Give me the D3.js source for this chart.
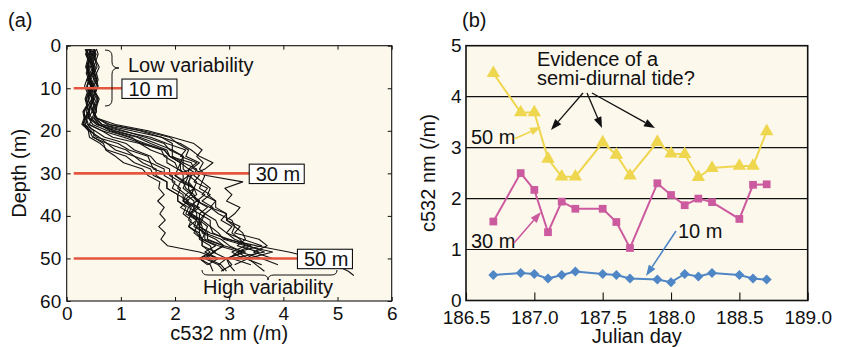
<!DOCTYPE html>
<html><head><meta charset="utf-8">
<script src="https://cdn.jsdelivr.net/npm/d3@7"></script>
<style>
html,body{margin:0;padding:0;background:#fff;}
svg text{font-family:"Liberation Sans",Arial,Helvetica,sans-serif;fill:#111;}
</style></head>
<body>
<svg id="c" width="842" height="347"></svg>
<script>
// ---------- DATA: panel (a) profiles ----------
const depths = [0.8,2,3.5,5,6.5,8,9.5,11,12.5,14,15.5,17,18.5,20,21.5,23,24.5,26,27.5,29,30.5,32,33.5,35,36.5,38,39.5,41,42.5,44,45.5,47,48.5,50,51.5,53,54];
const profiles = [
 [0.42,0.46,0.44,0.5,0.47,0.43,0.48,0.52,0.46,0.5,0.47,0.55,0.9,1.5,1.95,2.35,2.5,2.4,2.52,2.45,2.58,3.25,2.92,3.05,2.95,3.2,3.1,2.95,3.2,3.1,3.55,3.7,3.45,3.8],
 [0.38,0.36,0.42,0.4,0.45,0.41,0.38,0.44,0.4,0.37,0.42,0.4,0.55,1.0,1.55,1.85,2.2,2.1,2.4,2.25,2.45,2.35,2.6,2.5,2.75,2.65,2.95,2.85,3.05,2.95,3.25,3.6,3.15,3.35,3.5,3.65],
 [0.5,0.54,0.5,0.46,0.52,0.56,0.5,0.47,0.52,0.45,0.4,0.34,0.38,0.5,0.5,0.68,0.72,0.9,1.05,1.4,1.5,1.72,1.7,1.8,1.68,1.8,1.72,1.82,1.7,1.82,1.74,1.86,2.45,2.8],
 [0.44,0.4,0.45,0.42,0.38,0.44,0.48,0.42,0.46,0.4,0.36,0.42,0.6,0.85,1.3,1.55,1.85,1.9,2.1,2.05,2.25,2.2,2.35,2.3,2.45,2.4,2.55,2.5,2.65,2.7,2.95,3.5,4.1,4.6,4.95,5.2,5.3],
 [0.46,0.5,0.54,0.5,0.55,0.52,0.57,0.53,0.58,0.55,0.52,0.47,0.42,0.65,1.05,1.4,1.75,1.8,2.0,2.05,2.25,2.1,2.35,2.3,2.45,2.4,2.55,2.45,2.6,2.55,2.85,3.0,3.25,2.95,3.0,3.1],
 [0.36,0.4,0.38,0.35,0.4,0.43,0.38,0.42,0.36,0.4,0.32,0.34,0.3,0.45,0.55,0.95,1.15,1.5,1.55,1.8,1.8,2.0,1.95,2.15,2.15,2.3,2.25,2.4,2.35,2.55,2.5,2.75,2.55,2.8,2.6],
 [0.52,0.48,0.53,0.56,0.5,0.55,0.58,0.53,0.6,0.56,0.54,0.5,0.65,1.2,1.75,2.1,2.3,2.45,2.7,2.55,2.3,2.25,2.35,2.4,2.2,2.45,2.3,2.5,2.45,2.65,3.0,3.35,3.65,3.05,3.4],
 [0.4,0.44,0.4,0.37,0.43,0.4,0.46,0.42,0.39,0.44,0.4,0.36,0.4,0.65,0.85,1.35,1.55,1.85,1.85,2.05,2.0,2.2,2.15,2.3,2.15,2.4,2.25,2.45,2.4,2.55,2.55,2.9,2.7,2.95,3.05,2.85],
 [0.55,0.5,0.46,0.5,0.47,0.52,0.48,0.44,0.5,0.45,0.42,0.38,0.34,0.42,0.6,0.75,1.1,1.25,1.55,1.6,1.95,1.95,2.1,2.05,2.25,2.1,2.3,2.25,2.4,2.35,2.5,2.5,2.75,2.45,2.6],
 [0.44,0.48,0.45,0.5,0.46,0.42,0.47,0.44,0.5,0.46,0.49,0.54,0.8,1.4,1.9,2.05,2.25,2.2,2.45,2.3,2.0,2.15,2.2,2.35,2.4,2.65,2.8,3.05,3.1,3.25,3.3,3.15,3.55,3.3,3.6],
 [0.34,0.38,0.42,0.38,0.41,0.37,0.33,0.38,0.34,0.37,0.3,0.32,0.28,0.42,0.48,0.75,0.9,1.25,1.4,1.65,1.65,1.85,1.85,2.05,2.05,2.25,2.2,2.4,2.25,2.45,2.45,2.65,2.7,2.55,2.8],
 [0.48,0.52,0.48,0.53,0.5,0.55,0.5,0.53,0.48,0.52,0.5,0.56,0.75,1.35,1.75,1.95,1.95,2.15,2.1,2.25,2.25,2.4,2.35,2.55,2.4,2.6,2.45,2.65,2.65,2.8,2.9,3.3,3.8,3.35,3.1],
 [0.42,0.46,0.43,0.47,0.5,0.45,0.49,0.45,0.48,0.44,0.47,0.4,0.48,0.75,1.15,1.45,1.8,1.9,2.1,2.1,2.15,2.15,2.35,2.2,2.35,2.35,2.4,2.4,2.45,2.45,2.5,2.5,2.65,2.45,2.65,2.7],
 [0.55,0.58,0.54,0.6,0.55,0.58,0.54,0.52,0.57,0.53,0.55,0.5,0.6,0.8,1.2,1.35,1.8,1.9,2.3,2.35,2.55,2.5,2.65,2.6,2.75,2.75,2.95,2.95,3.1,3.05,3.2,3.3,3.05,3.25],
 [0.4,0.37,0.42,0.39,0.36,0.41,0.37,0.4,0.36,0.38,0.32,0.34,0.3,0.4,0.42,0.62,0.75,1.1,1.25,1.55,1.6,1.85,1.85,2.05,2.05,2.2,2.15,2.3,2.25,2.4,2.5,2.8,3.2,3.6,3.9],
 [0.45,0.42,0.47,0.44,0.48,0.4,0.45,0.42,0.47,0.43,0.4,0.46,0.55,0.9,1.35,1.65,1.95,1.95,2.15,2.15,2.3,2.25,2.25,2.3,2.4,2.25,2.45,2.45,2.5,2.5,2.75,2.9,2.7,2.6,2.85,2.95],
 [0.5,0.54,0.5,0.47,0.52,0.49,0.45,0.5,0.55,0.5,0.5,0.54,0.65,1.05,1.45,1.8,1.9,2.15,2.15,2.4,2.35,2.5,2.45,2.65,2.5,2.7,2.55,2.75,2.8,2.95,3.1,3.4,3.15,3.0],
 [0.38,0.35,0.4,0.37,0.42,0.38,0.44,0.39,0.42,0.37,0.4,0.33,0.32,0.52,0.7,1.1,1.25,1.55,1.65,1.9,1.9,2.1,2.05,2.2,2.15,2.35,2.3,2.45,2.45,2.6,2.6,2.9,3.3,2.95,2.8,2.9]
];
const refDepths = [10, 30, 50];
const refLabels = ["10 m", "30 m", "50 m"];
const xTicksA = [0,1,2,3,4,5,6];
const yTicksA = [0,10,20,30,40,50,60];

// ---------- DATA: panel (b) time series ----------
const julianDay = [186.7,186.9,187.0,187.1,187.2,187.3,187.5,187.6,187.7,187.9,188.0,188.1,188.2,188.3,188.5,188.6,188.7];
const c50 = [4.46,3.69,3.69,2.78,2.43,2.43,3.1,2.86,2.45,3.11,2.88,2.87,2.42,2.6,2.64,2.64,3.32];
const c30 = [1.55,2.5,2.17,1.34,1.94,1.8,1.8,1.54,1.03,2.3,2.07,1.87,2.0,1.93,1.6,2.27,2.28];
const c10 = [0.5,0.54,0.52,0.43,0.5,0.57,0.52,0.5,0.43,0.41,0.36,0.52,0.47,0.54,0.5,0.43,0.41];
const xTicksB = [186.5,187.0,187.5,188.0,188.5,189.0];
const yTicksB = [0,1,2,3,4,5];
const gridB = [1,2,3,4];

// ---------- drawing ----------
const svg = d3.select("#c");
const FS = 19, FT = 20;
const BG = "#fdf8ec";
const RED = "#e4563f";
const YEL = "#efd64f", PINK = "#cc5a9e", BLUE = "#4f86c6";

function arrow(g, x1, y1, x2, y2, color, headLen, headW, sw) {
  const a = Math.atan2(y2 - y1, x2 - x1);
  const bx = x2 - headLen * Math.cos(a), by = y2 - headLen * Math.sin(a);
  g.append("line").attr("x1", x1).attr("y1", y1).attr("x2", bx).attr("y2", by)
    .attr("stroke", color).attr("stroke-width", sw);
  const px = -Math.sin(a) * headW / 2, py = Math.cos(a) * headW / 2;
  g.append("path").attr("d", `M${x2},${y2}L${bx+px},${by+py}L${bx-px},${by-py}Z`).attr("fill", color);
}

// ===== Panel (a) =====
const xa = d3.scaleLinear().domain([0,6]).range([66.7,391.7]);
const ya = d3.scaleLinear().domain([0,60]).range([45.7,301]);
const ga = svg.append("g");
ga.append("rect").attr("x", xa(0)).attr("y", ya(0)).attr("width", xa(6)-xa(0)).attr("height", ya(60)-ya(0))
  .attr("fill", BG);

const lineA = d3.line().x(d => xa(d[0])).y(d => ya(d[1]));
profiles.forEach(p => {
  const pts = p.map((v, i) => [v, depths[i]]);
  ga.append("path").attr("d", lineA(pts)).attr("fill", "none").attr("stroke", "#111")
    .attr("stroke-width", 1.1).attr("stroke-linejoin", "round");
});

// reference lines + boxes
const boxLeft = [1.02, 3.37, 4.26];
refDepths.forEach((d, i) => {
  ga.append("line").attr("x1", xa(0.13)).attr("x2", xa(boxLeft[i])).attr("y1", ya(d)).attr("y2", ya(d))
    .attr("stroke", RED).attr("stroke-width", 2.6);
  const bx = xa(boxLeft[i]);
  ga.append("rect").attr("x", bx).attr("y", ya(d) - 9.2).attr("width", 55).attr("height", 19.4)
    .attr("fill", "#fff").attr("stroke", "#111").attr("stroke-width", 1.1);
  ga.append("text").attr("x", bx + 6.5).attr("y", ya(d) + 7.5).attr("font-size", FT).text(refLabels[i]);
});

// braces
ga.append("path").attr("d", "M105,50 Q112,50 112,56 L112,62 Q112,68 119,68 Q112,68 112,74 L112,100 Q112,106 105,106")
  .attr("fill", "none").attr("stroke", "#111").attr("stroke-width", 1);
ga.append("text").attr("x", 128).attr("y", 72).attr("font-size", FT).text("Low variability");
ga.append("path").attr("d", "M202,270 Q202,275 208,275 L262,275 Q268,275 268,280 Q268,275 274,275 L331,275 Q337,275 337,270")
  .attr("fill", "none").attr("stroke", "#111").attr("stroke-width", 1);
ga.append("text").attr("x", 203).attr("y", 294).attr("font-size", FT).text("High variability");

// border + axes
ga.append("rect").attr("x", xa(0)).attr("y", ya(0)).attr("width", xa(6)-xa(0)).attr("height", ya(60)-ya(0))
  .attr("fill", "none").attr("stroke", "#111").attr("stroke-width", 1.1);
function styleAxis(g) {
  g.select(".domain").remove();
  g.selectAll("text").attr("font-size", FS).attr("font-family", '"Liberation Sans",Arial,sans-serif').attr("fill", "#111");
  g.selectAll("line").attr("stroke", "#111");
}
ga.append("g").attr("transform", `translate(0,${ya(60)})`)
  .call(d3.axisBottom(xa).tickValues(xTicksA).tickFormat(d3.format("d")).tickSize(-4).tickPadding(5.5)).call(styleAxis);
ga.append("g").attr("transform", `translate(0,${ya(0)})`)
  .call(d3.axisTop(xa).tickValues(xTicksA).tickFormat("").tickSize(-4)).call(styleAxis);
ga.append("g").attr("transform", `translate(${xa(0)},0)`)
  .call(d3.axisLeft(ya).tickValues(yTicksA).tickFormat(d3.format("d")).tickSize(-4).tickPadding(5.5)).call(styleAxis);
ga.append("g").attr("transform", `translate(${xa(6)},0)`)
  .call(d3.axisRight(ya).tickValues(yTicksA).tickFormat("").tickSize(-4)).call(styleAxis);

ga.append("text").attr("x", (xa(0)+xa(6))/2).attr("y", 340).attr("text-anchor", "middle").attr("font-size", FT).text("c532 nm (/m)");
ga.append("text").attr("transform", `translate(19,${(ya(0)+ya(60))/2}) rotate(-90)`).attr("dy", "0.35em")
  .attr("text-anchor", "middle").attr("font-size", FT).text("Depth (m)");
ga.append("text").attr("x", 8).attr("y", 27).attr("font-size", FT).text("(a)");

// ===== Panel (b) =====
const xb = d3.scaleLinear().domain([186.5,189]).range([466,807.7]);
const yb = d3.scaleLinear().domain([0,5]).range([300.5,45.7]);
const gb = svg.append("g");
gb.append("rect").attr("x", xb(186.5)).attr("y", yb(5)).attr("width", xb(189)-xb(186.5)).attr("height", yb(0)-yb(5))
  .attr("fill", BG);
gb.selectAll(".grid").data(gridB).join("line").attr("x1", xb(186.5)).attr("x2", xb(189))
  .attr("y1", d => yb(d)).attr("y2", d => yb(d)).attr("stroke", "#111").attr("stroke-width", 1.1);

const series = [
  {vals: c50, color: YEL, sym: d3.symbolTriangle, size: 78, rot: 0},
  {vals: c30, color: PINK, sym: d3.symbolSquare, size: 60, rot: 0},
  {vals: c10, color: BLUE, sym: d3.symbolSquare, size: 50, rot: 45}
];
const lineB = d3.line().x(d => xb(d[0])).y(d => yb(d[1]));
series.forEach(s => {
  const pts = julianDay.map((x, i) => [x, s.vals[i]]);
  gb.append("path").attr("d", lineB(pts)).attr("fill", "none").attr("stroke", s.color).attr("stroke-width", 2);
  gb.selectAll(null).data(pts).join("path")
    .attr("d", d3.symbol().type(s.sym).size(s.size))
    .attr("transform", d => `translate(${xb(d[0])},${yb(d[1])}) rotate(${s.rot})`)
    .attr("fill", s.color);
});

gb.append("rect").attr("x", xb(186.5)).attr("y", yb(5)).attr("width", xb(189)-xb(186.5)).attr("height", yb(0)-yb(5))
  .attr("fill", "none").attr("stroke", "#111").attr("stroke-width", 1.6);
gb.append("g").attr("transform", `translate(0,${yb(0)})`)
  .call(d3.axisBottom(xb).tickValues(xTicksB).tickFormat(d3.format(".1f")).tickSize(-8).tickPadding(10.5)).call(styleAxis);
gb.append("g").attr("transform", `translate(${xb(186.5)},0)`)
  .call(d3.axisLeft(yb).tickValues(yTicksB).tickFormat(d3.format("d")).tickSize(0).tickPadding(4.5)).call(styleAxis);
gb.selectAll("line").attr("stroke-width", 1.1);

gb.append("text").attr("x", (xb(186.5)+xb(189))/2).attr("y", 343).attr("text-anchor", "middle").attr("font-size", FT).text("Julian day");
gb.append("text").attr("transform", `translate(428,${(yb(0)+yb(5))/2}) rotate(-90)`).attr("dy", "0.35em")
  .attr("text-anchor", "middle").attr("font-size", FT).text("c532 nm (/m)");
gb.append("text").attr("x", 462).attr("y", 27).attr("font-size", FT).text("(b)");

// annotations
gb.append("text").attr("x", 537).attr("y", 66).attr("font-size", FT).text("Evidence of a");
gb.append("text").attr("x", 537).attr("y", 85).attr("font-size", FT).text("semi-diurnal tide?");
arrow(gb, 583, 93, 551, 130, "#111", 11, 8, 1.3);
arrow(gb, 587, 93, 602, 128, "#111", 11, 8, 1.3);
arrow(gb, 592, 93, 655, 128, "#111", 11, 8, 1.3);

gb.append("text").attr("x", 471).attr("y", 144).attr("font-size", FT).text("50 m");
arrow(gb, 514, 139, 541, 127, YEL, 11, 8, 1.6);
gb.append("text").attr("x", 471).attr("y", 248).attr("font-size", FT).text("30 m");
arrow(gb, 514, 243, 541, 212, PINK, 11, 8, 1.6);
gb.append("text").attr("x", 678).attr("y", 238).attr("font-size", FT).text("10 m");
arrow(gb, 676, 231, 646, 276, BLUE, 11, 8, 1.6);
</script>
</body></html>
